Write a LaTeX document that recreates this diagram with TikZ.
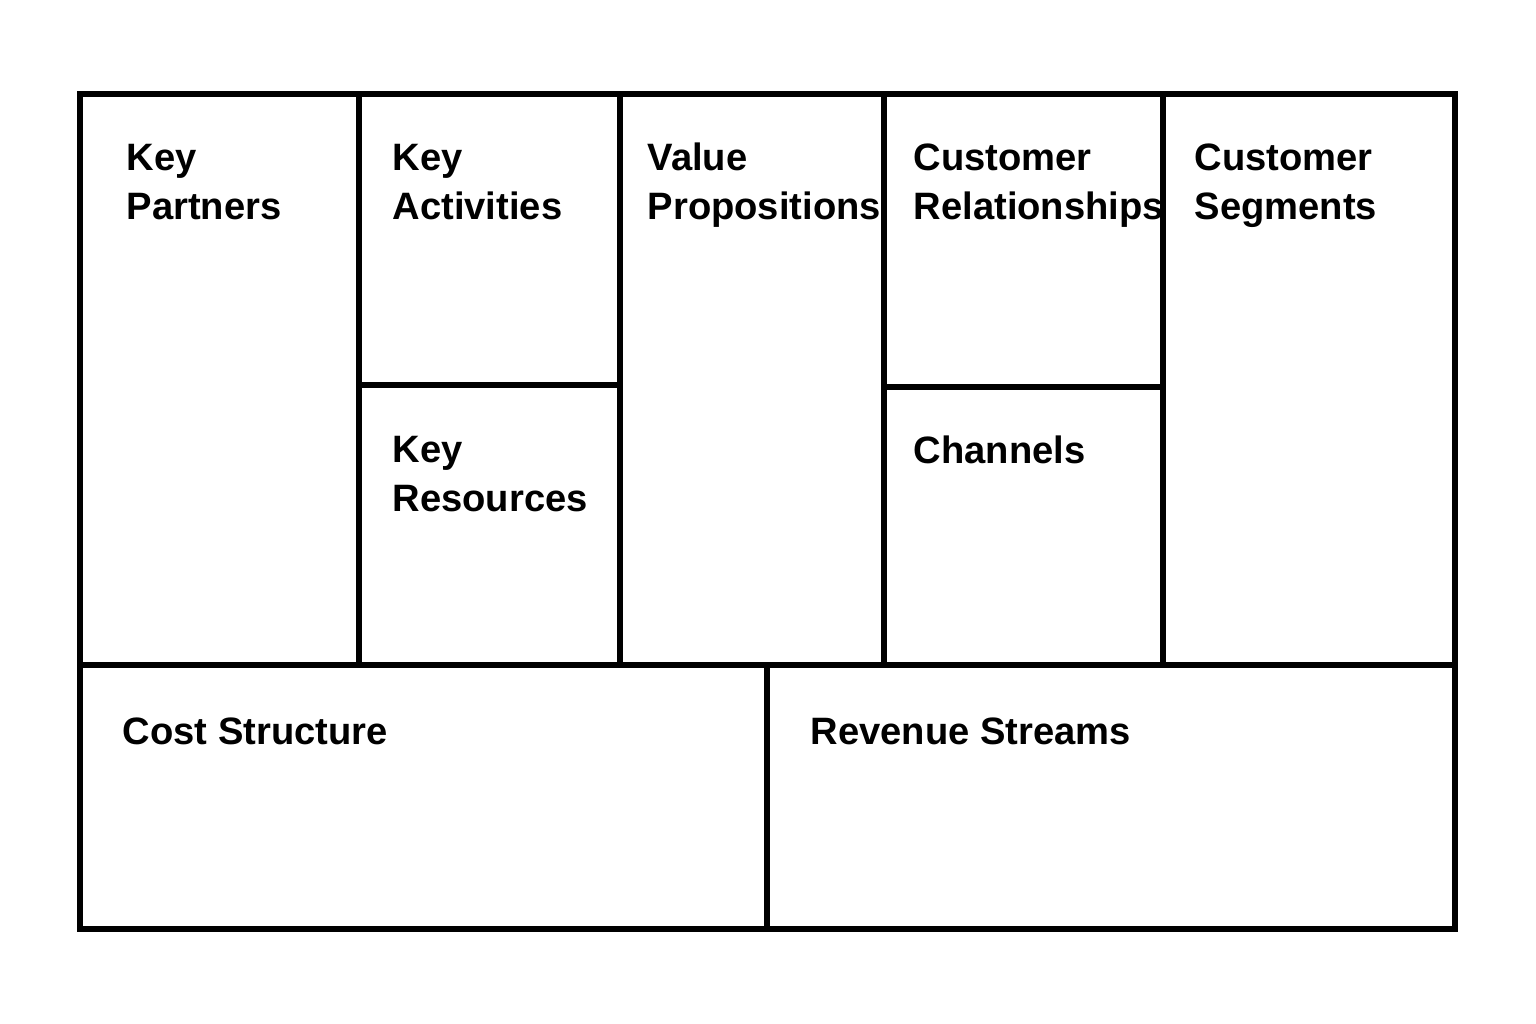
\documentclass[tikz,border=0pt]{standalone}
\usepackage{fontspec}
\setmainfont{Liberation Sans}
\usetikzlibrary{positioning}

\tikzset{
  frame/.style={line width=0.06cm, line join=miter},
  blocklabel/.style={anchor=base west, inner sep=0pt, align=left,
    font=\fontsize{10.85}{13.66}\selectfont\bfseries}
}

\begin{document}
\begin{tikzpicture}[x=0.01cm,y=-0.01cm]
		\useasboundingbox[fill=white] (0,0) rectangle (1536,1024);

		% outer frame and dividers
		\draw[frame] (80,94) rectangle (1455,929);
		\draw[frame] (80,665)--(1455,665);
		\draw[frame] (359,94)--(359,665);
		\draw[frame] (620,94)--(620,665);
		\draw[frame] (884,94)--(884,665);
		\draw[frame] (1163,94)--(1163,665);
		\draw[frame] (359,385)--(620,385);
		\draw[frame] (884,387)--(1163,387);
		\draw[frame] (767,665)--(767,929);

		% block titles (base anchor = last line)
		\node[blocklabel] (kp) at (126,219) {Key\\Partners};
		\node[blocklabel] (ka) at (392,219) {Key\\Activities};
		\node[blocklabel] (kr) at (392,511) {Key\\Resources};
		\node[blocklabel] (vp) at (647,219) {Value\\Propositions};
		\node[blocklabel] (cr) at (913,219) {Customer\\Relationships};
		\node[blocklabel] (ch) at (913,463) {Channels};
		\node[blocklabel] (cs) at (1194,219) {Customer\\Segments};
		\node[blocklabel] (cost) at (122,744) {Cost Structure};
		\node[blocklabel] (rev) at (810,744) {Revenue Streams};
\end{tikzpicture}
\end{document}
